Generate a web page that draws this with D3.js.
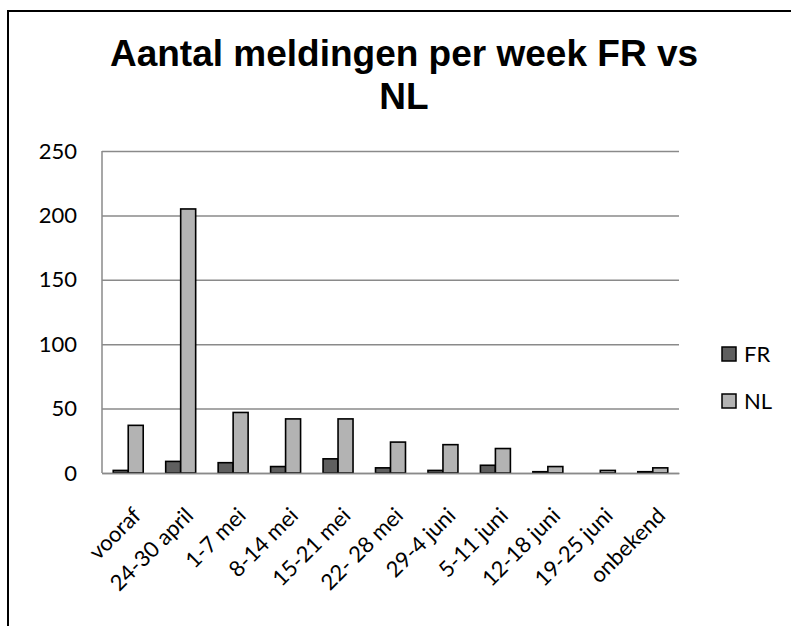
<!DOCTYPE html>
<html>
<head>
<meta charset="utf-8">
<script src="https://cdn.jsdelivr.net/npm/d3@7"></script>
<style>
  body { margin: 0; background: white; }
</style>
</head>
<body>
<div id="wrapper"></div>
<script>
// 1. Data

const categories = ["vooraf", "24-30 april", "1-7 mei", "8-14 mei", "15-21 mei",
  "22- 28 mei", "29-4 juni", "5-11 juni", "12-18 juni", "19-25 juni", "onbekend"]
const seriesNames = ["FR", "NL"]
const frValues = [2, 9, 8, 5, 11, 4, 2, 6, 1, 0, 1]
const nlValues = [37, 205, 47, 42, 42, 24, 22, 19, 5, 2, 4]
const yTicks = [0, 50, 100, 150, 200, 250]

const colors = { FR: "#5f5f5f", NL: "#b3b3b3" }

const rows = categories.map((c, i) => ({ category: c, FR: frValues[i], NL: nlValues[i] }))

// 2. Dimensions

let dimensions = {
  width: 791,
  height: 626,
  margin: { top: 151, right: 112, bottom: 153, left: 102 }
}
dimensions.boundedWidth = dimensions.width - dimensions.margin.left - dimensions.margin.right
dimensions.boundedHeight = dimensions.height - dimensions.margin.top - dimensions.margin.bottom

// 3. Canvas

const wrapper = d3.select("#wrapper")
  .append("svg")
  .attr("width", dimensions.width)
  .attr("height", dimensions.height)

// chart frame, runs off the right and bottom edges
wrapper.append("rect")
  .attr("x", 8)
  .attr("y", 11)
  .attr("width", 900)
  .attr("height", 700)
  .attr("fill", "white")
  .attr("stroke", "black")
  .attr("stroke-width", 2)

const title = wrapper.append("text")
  .attr("text-anchor", "middle")
  .style("font-family", "'Liberation Sans', Arial, sans-serif")
  .style("font-weight", "bold")
  .style("font-size", "37px")
  .style("fill", "black")
title.append("tspan").attr("x", 404).attr("y", 66).text("Aantal meldingen per week FR vs")
title.append("tspan").attr("x", 404).attr("y", 109).text("NL")

const bounds = wrapper.append("g")
  .attr("transform", `translate(${dimensions.margin.left}, ${dimensions.margin.top})`)

// 4. Scales

const x0 = d3.scaleBand()
  .domain(categories)
  .range([0, dimensions.boundedWidth])
  .paddingInner(1.5 / 3.5)
  .paddingOuter(0.75 / 3.5)

const x1 = d3.scaleBand()
  .domain(seriesNames)
  .range([0, x0.bandwidth()])

const yScale = d3.scaleLinear()
  .domain([0, 250])
  .range([dimensions.boundedHeight, 0])

// 5. Gridlines + axes

const labelFont = "Lato, 'Open Sans', sans-serif"
const labelSize = "22px"

const yAxis = bounds.append("g")
  .call(d3.axisLeft(yScale).tickValues(yTicks).tickSize(-dimensions.boundedWidth).tickPadding(25))
yAxis.select(".domain").remove()
yAxis.selectAll(".tick line")
  .attr("stroke", "#8a8a8a")
  .attr("stroke-width", 1.5)
yAxis.selectAll(".tick text")
  .style("font-family", labelFont)
  .style("font-size", labelSize)
  .style("fill", "black")

// left edge of plot area
bounds.append("line")
  .attr("x1", 0).attr("x2", 0)
  .attr("y1", 0).attr("y2", dimensions.boundedHeight)
  .attr("stroke", "#8a8a8a")
  .attr("stroke-width", 1.5)

// 6. Bars

const groups = bounds.append("g")
  .selectAll("g")
  .data(rows)
  .join("g")
  .attr("transform", d => `translate(${x0(d.category)}, 0)`)

groups.selectAll("rect")
  .data(d => seriesNames.map(s => ({ key: s, value: d[s] })).filter(v => v.value > 0))
  .join("rect")
  .attr("x", d => x1(d.key))
  .attr("y", d => yScale(d.value))
  .attr("width", x1.bandwidth())
  .attr("height", d => dimensions.boundedHeight - yScale(d.value))
  .attr("fill", d => colors[d.key])
  .attr("stroke", "black")
  .attr("stroke-width", 1.6)

// x axis line on top of bars
const xAxis = bounds.append("g")
  .attr("transform", `translate(0, ${dimensions.boundedHeight})`)
  .call(d3.axisBottom(x0).tickSize(0).tickFormat(""))
xAxis.select(".domain")
  .attr("stroke", "#8a8a8a")
  .attr("stroke-width", 1.5)

// rotated category labels
bounds.append("g")
  .selectAll("text")
  .data(categories)
  .join("text")
  .attr("transform", d => `translate(${x0(d) + x0.bandwidth() / 2 + 14}, ${dimensions.boundedHeight + 44}) rotate(-45)`)
  .attr("text-anchor", "end")
  .style("font-family", labelFont)
  .style("font-size", labelSize)
  .style("fill", "black")
  .text(d => d)

// 7. Legend

const legend = wrapper.append("g")
  .selectAll("g")
  .data(seriesNames)
  .join("g")
  .attr("transform", (d, i) => `translate(722, ${347 + i * 47})`)

legend.append("rect")
  .attr("width", 14)
  .attr("height", 14)
  .attr("fill", d => colors[d])
  .attr("stroke", "black")
  .attr("stroke-width", 1.5)

legend.append("text")
  .attr("x", 22)
  .attr("y", 7)
  .attr("dy", "0.35em")
  .style("font-family", labelFont)
  .style("font-size", labelSize)
  .style("fill", "black")
  .text(d => d)
</script>
</body>
</html>
